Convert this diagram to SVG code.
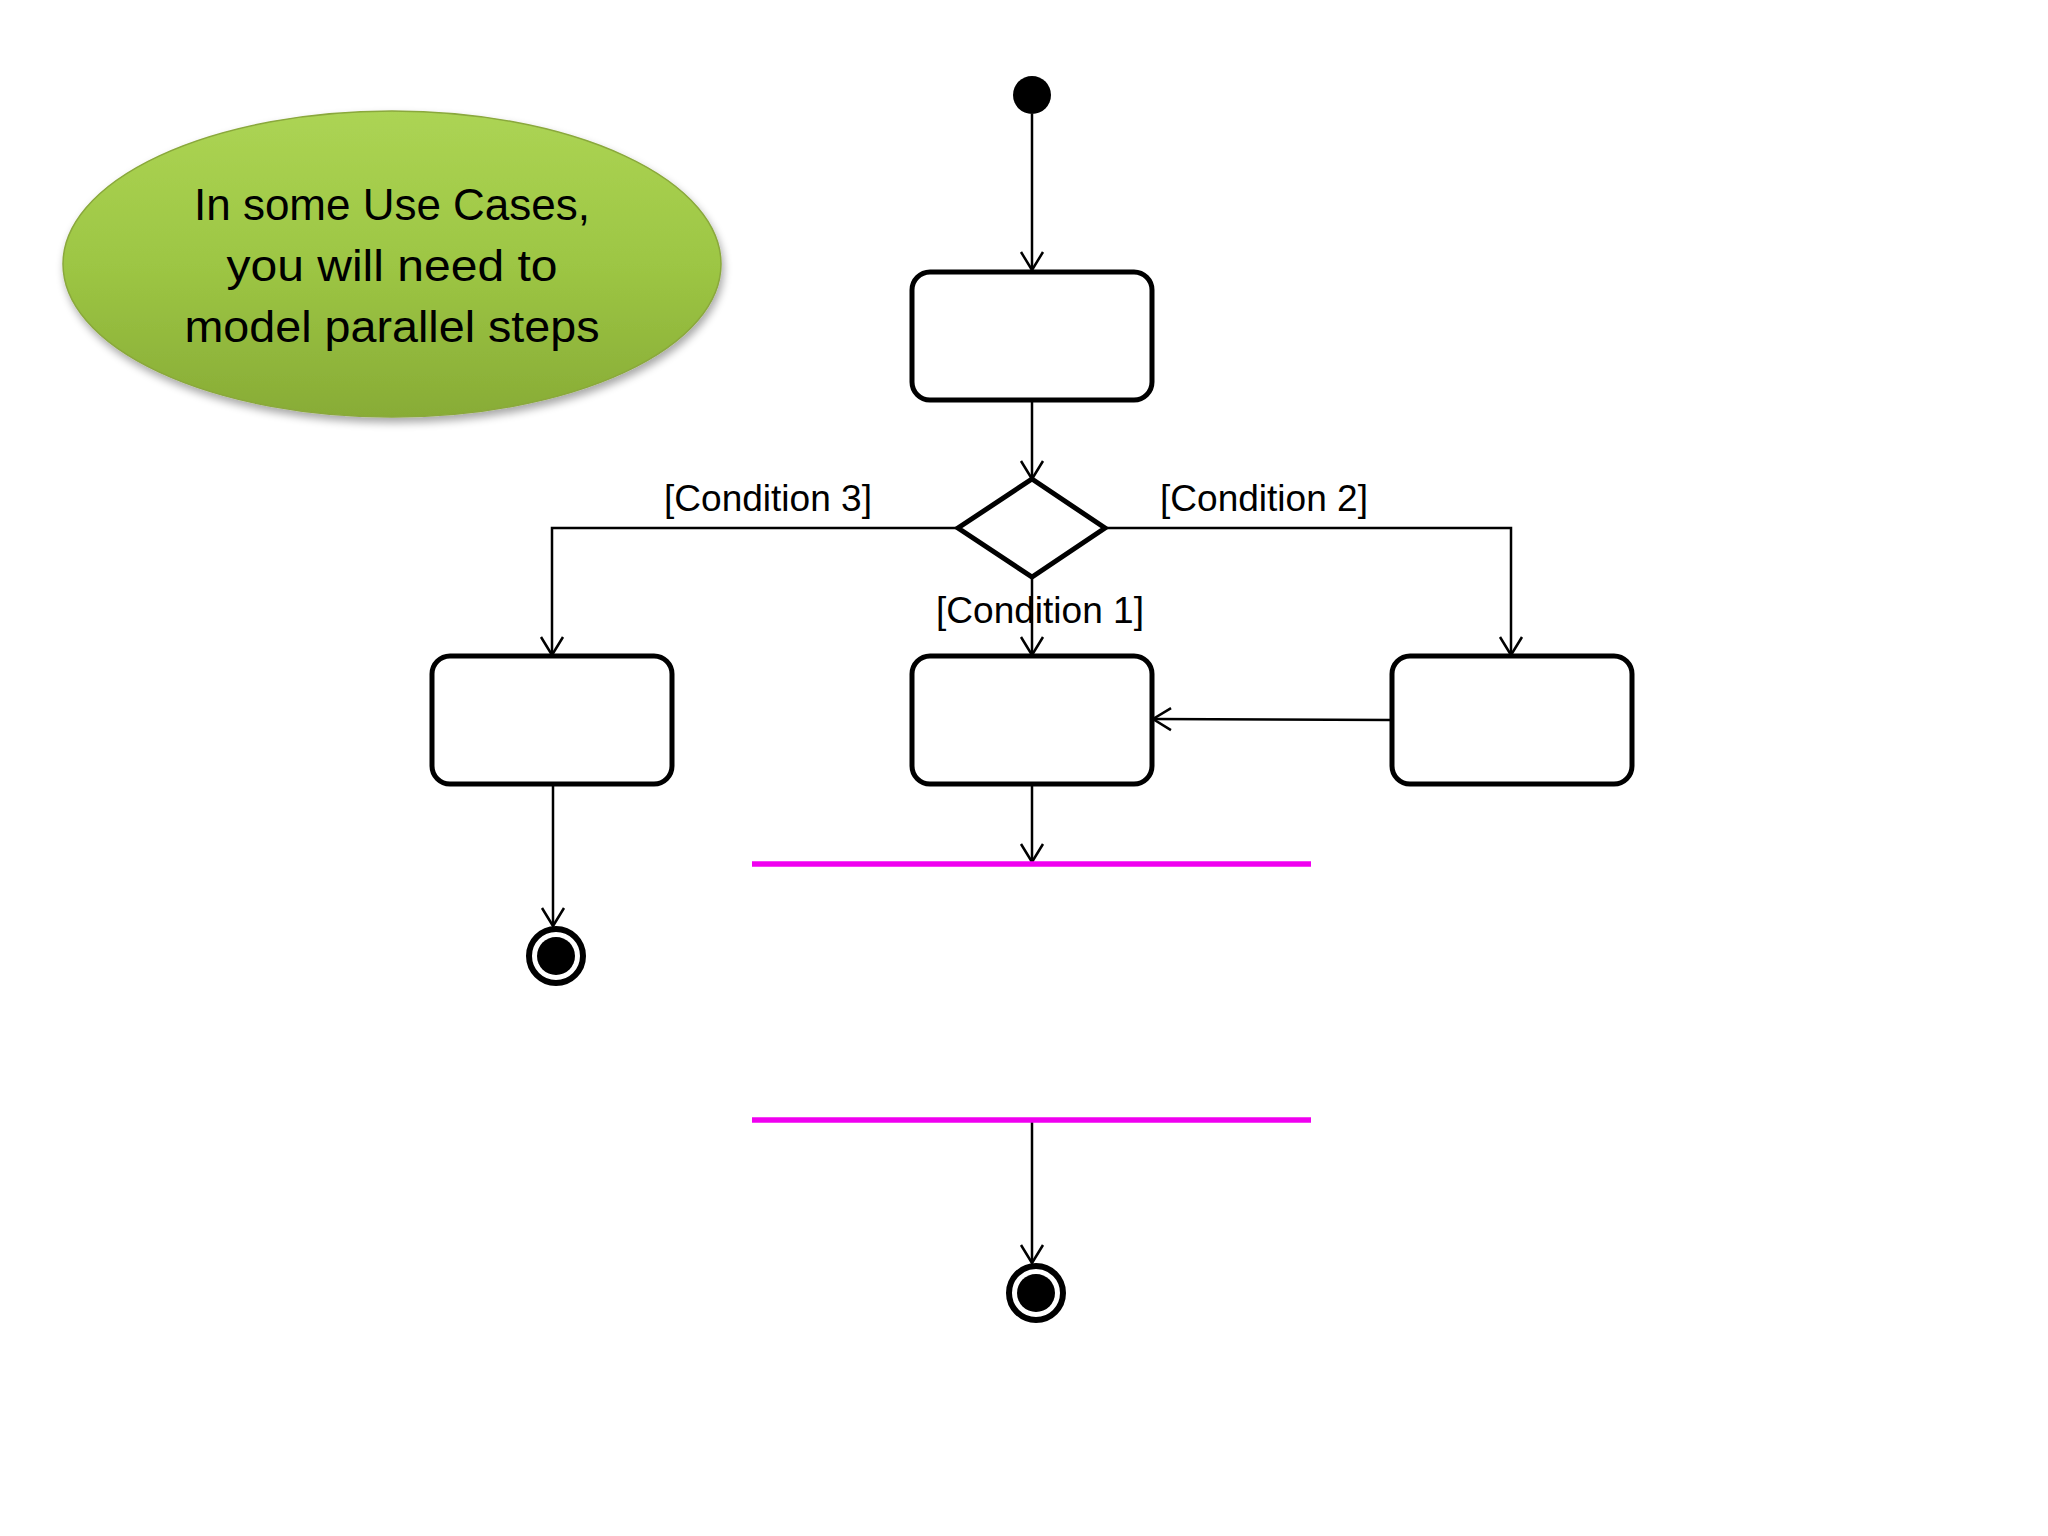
<svg xmlns="http://www.w3.org/2000/svg" width="2048" height="1536" viewBox="0 0 2048 1536">
<style>
.box{fill:#fff;stroke:#000;stroke-width:5}
.conn{fill:none;stroke:#000;stroke-width:2.5}
.lbl{font-family:"Liberation Sans",Arial,sans-serif;font-size:37px;fill:#000}
.note{font-family:"Liberation Sans",Arial,sans-serif;font-size:44px;fill:#000;text-anchor:middle}
.bar{stroke:#f000f0;stroke-width:5.5}
</style>
<defs>
<marker id="arr" markerUnits="userSpaceOnUse" markerWidth="30" markerHeight="30" viewBox="-20 -15 24 30" refX="0" refY="0" orient="auto">
<path d="M-18,-11 L0,0 L-18,11" fill="none" stroke="#000" stroke-width="2.5"/>
</marker>
<linearGradient id="g" x1="0" y1="0" x2="0" y2="1">
<stop offset="0" stop-color="#acd454"/>
<stop offset="0.5" stop-color="#9dc644"/>
<stop offset="1" stop-color="#88ac36"/>
</linearGradient>
<filter id="sh" x="-20%" y="-20%" width="140%" height="150%">
<feGaussianBlur in="SourceAlpha" stdDeviation="4"/>
<feOffset dx="2" dy="5" result="b"/>
<feComponentTransfer><feFuncA type="linear" slope="0.35"/></feComponentTransfer>
<feMerge><feMergeNode/><feMergeNode in="SourceGraphic"/></feMerge>
</filter>
</defs>
<rect width="2048" height="1536" fill="#fff"/>
<g id="note">
<ellipse cx="392" cy="264" rx="329" ry="153" fill="url(#g)" stroke="#8aa83c" stroke-width="1.5" filter="url(#sh)"/>
<text class="note" x="392" y="220" textLength="396" lengthAdjust="spacingAndGlyphs">In some Use Cases,</text>
<text class="note" x="392" y="281" textLength="331" lengthAdjust="spacingAndGlyphs">you will need to</text>
<text class="note" x="392" y="342" textLength="415" lengthAdjust="spacingAndGlyphs">model parallel steps</text>
</g>
<g id="connectors">
<line class="conn" x1="1032" y1="114" x2="1032" y2="270" marker-end="url(#arr)"/>
<line class="conn" x1="1032" y1="400" x2="1032" y2="479" marker-end="url(#arr)"/>
<polyline class="conn" points="958,528 552,528 552,655" marker-end="url(#arr)"/>
<polyline class="conn" points="1105,528 1511,528 1511,655" marker-end="url(#arr)"/>
<line class="conn" x1="1032" y1="577" x2="1032" y2="655" marker-end="url(#arr)"/>
<line class="conn" x1="1392" y1="720" x2="1153" y2="719" marker-end="url(#arr)"/>
<line class="conn" x1="553" y1="784" x2="553" y2="926" marker-end="url(#arr)"/>
<line class="conn" x1="1032" y1="784" x2="1032" y2="862" marker-end="url(#arr)"/>
<line class="conn" x1="1032" y1="1120" x2="1032" y2="1263" marker-end="url(#arr)"/>
</g>
<g id="start"><circle cx="1032" cy="95" r="19" fill="#000"/></g>
<g id="act1"><rect class="box" x="912" y="272" width="240" height="128" rx="18"/></g>
<g id="decision"><polygon points="1032,479 1105,528 1032,577 958,528" fill="#fff" stroke="#000" stroke-width="5"/></g>
<g id="act2"><rect class="box" x="432" y="656" width="240" height="128" rx="18"/></g>
<g id="act3"><rect class="box" x="912" y="656" width="240" height="128" rx="18"/></g>
<g id="act4"><rect class="box" x="1392" y="656" width="240" height="128" rx="18"/></g>
<g id="labels">
<text class="lbl" x="664" y="511" textLength="208" lengthAdjust="spacingAndGlyphs">[Condition 3]</text>
<text class="lbl" x="1160" y="511" textLength="208" lengthAdjust="spacingAndGlyphs">[Condition 2]</text>
<text class="lbl" x="936" y="623" textLength="208" lengthAdjust="spacingAndGlyphs">[Condition 1]</text>
</g>
<g id="fork"><line class="bar" x1="752" y1="864" x2="1311" y2="864"/></g>
<g id="join"><line class="bar" x1="752" y1="1120" x2="1311" y2="1120"/></g>
<g id="end1"><circle cx="556" cy="956" r="27" fill="#fff" stroke="#000" stroke-width="6"/><circle cx="556" cy="956" r="19" fill="#000"/></g>
<g id="end2"><circle cx="1036" cy="1293" r="27" fill="#fff" stroke="#000" stroke-width="6"/><circle cx="1036" cy="1293" r="19" fill="#000"/></g>
</svg>
